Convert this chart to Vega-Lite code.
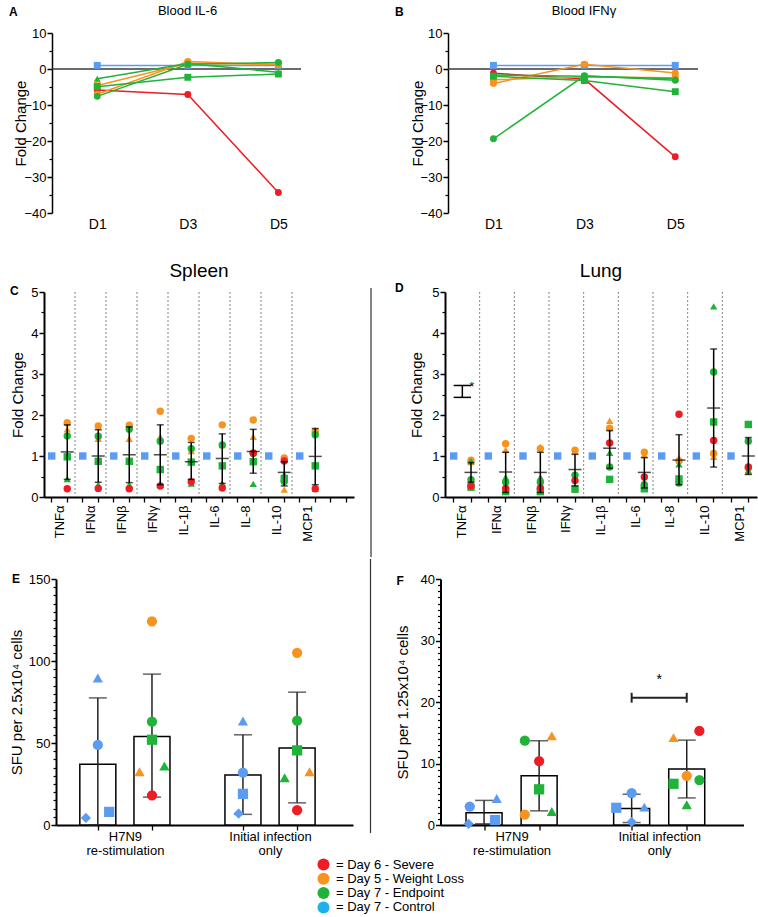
{
  "$schema": "https://vega.github.io/schema/vega-lite/v6.json",
  "padding": {"left": 6, "top": 4, "right": 0, "bottom": 0},
  "background": "white",
  "config": {
    "font": "Liberation Sans",
    "view": {"stroke": null},
    "axis": {"labelFont": "Liberation Sans", "titleFont": "Liberation Sans", "labelColor": "#000", "titleColor": "#000", "domainColor": "#000", "tickColor": "#000", "grid": false, "labelFontSize": 13, "titleFontSize": 15, "titleFontWeight": "normal", "domainWidth": 1.5, "tickWidth": 1.5, "labelOverlap": false},
    "title": {"font": "Liberation Sans", "fontWeight": "normal", "color": "#000"},
    "text": {"font": "Liberation Sans"},
    "legend": {"labelFont": "Liberation Sans"}
  },
  "datasets": {
    "il6": [
      {"id": "B1", "g": "Day 7 - Control", "s": "s", "d": 1, "v": 1.0}, {"id": "B1", "g": "Day 7 - Control", "s": "s", "d": 3, "v": 1.0}, {"id": "B1", "g": "Day 7 - Control", "s": "s", "d": 5, "v": 1.0},
      {"id": "R1", "g": "Day 6 - Severe", "s": "c", "d": 1, "v": -5.8}, {"id": "R1", "g": "Day 6 - Severe", "s": "c", "d": 3, "v": -7.1}, {"id": "R1", "g": "Day 6 - Severe", "s": "c", "d": 5, "v": -34.3},
      {"id": "O1", "g": "Day 5 - Weight Loss", "s": "c", "d": 1, "v": -7.0}, {"id": "O1", "g": "Day 5 - Weight Loss", "s": "c", "d": 3, "v": 2.1}, {"id": "O1", "g": "Day 5 - Weight Loss", "s": "c", "d": 5, "v": 1.2},
      {"id": "O2", "g": "Day 5 - Weight Loss", "s": "s", "d": 1, "v": -4.6}, {"id": "O2", "g": "Day 5 - Weight Loss", "s": "s", "d": 3, "v": 1.6}, {"id": "O2", "g": "Day 5 - Weight Loss", "s": "s", "d": 5, "v": 1.3},
      {"id": "G1", "g": "Day 7 - Endpoint", "s": "c", "d": 1, "v": -7.6}, {"id": "G1", "g": "Day 7 - Endpoint", "s": "c", "d": 3, "v": 1.3}, {"id": "G1", "g": "Day 7 - Endpoint", "s": "c", "d": 5, "v": 1.8},
      {"id": "G2", "g": "Day 7 - Endpoint", "s": "s", "d": 1, "v": -4.9}, {"id": "G2", "g": "Day 7 - Endpoint", "s": "s", "d": 3, "v": -2.3}, {"id": "G2", "g": "Day 7 - Endpoint", "s": "s", "d": 5, "v": -1.4},
      {"id": "G3", "g": "Day 7 - Endpoint", "s": "t", "d": 1, "v": -2.7}, {"id": "G3", "g": "Day 7 - Endpoint", "s": "t", "d": 3, "v": 1.5}, {"id": "G3", "g": "Day 7 - Endpoint", "s": "t", "d": 5, "v": -0.9}
    ],
    "ifng": [
      {"id": "B1", "g": "Day 7 - Control", "s": "s", "d": 1, "v": 1.0}, {"id": "B1", "g": "Day 7 - Control", "s": "s", "d": 3, "v": 1.0}, {"id": "B1", "g": "Day 7 - Control", "s": "s", "d": 5, "v": 1.0},
      {"id": "R1", "g": "Day 6 - Severe", "s": "c", "d": 1, "v": -1.2}, {"id": "R1", "g": "Day 6 - Severe", "s": "c", "d": 3, "v": -2.8}, {"id": "R1", "g": "Day 6 - Severe", "s": "c", "d": 5, "v": -24.4},
      {"id": "O1", "g": "Day 5 - Weight Loss", "s": "c", "d": 1, "v": -4.0}, {"id": "O1", "g": "Day 5 - Weight Loss", "s": "c", "d": 3, "v": 1.3}, {"id": "O1", "g": "Day 5 - Weight Loss", "s": "c", "d": 5, "v": -1.1},
      {"id": "O2", "g": "Day 5 - Weight Loss", "s": "s", "d": 1, "v": -3.0}, {"id": "O2", "g": "Day 5 - Weight Loss", "s": "s", "d": 3, "v": -2.2}, {"id": "O2", "g": "Day 5 - Weight Loss", "s": "s", "d": 5, "v": -2.4},
      {"id": "G1", "g": "Day 7 - Endpoint", "s": "c", "d": 1, "v": -19.4}, {"id": "G1", "g": "Day 7 - Endpoint", "s": "c", "d": 3, "v": -1.9}, {"id": "G1", "g": "Day 7 - Endpoint", "s": "c", "d": 5, "v": -3.1},
      {"id": "G2", "g": "Day 7 - Endpoint", "s": "s", "d": 1, "v": -2.0}, {"id": "G2", "g": "Day 7 - Endpoint", "s": "s", "d": 3, "v": -3.2}, {"id": "G2", "g": "Day 7 - Endpoint", "s": "s", "d": 5, "v": -6.3},
      {"id": "G3", "g": "Day 7 - Endpoint", "s": "t", "d": 1, "v": -1.7}, {"id": "G3", "g": "Day 7 - Endpoint", "s": "t", "d": 3, "v": -2.0}, {"id": "G3", "g": "Day 7 - Endpoint", "s": "t", "d": 5, "v": -2.7}
    ],
    "spleen": [
      {"k": "TNFα|ctl", "g": "Day 7 - Control", "s": "s", "v": 1},
      {"k": "TNFα|inf", "g": "Day 5 - Weight Loss", "s": "c", "v": 1.81}, {"k": "TNFα|inf", "g": "Day 5 - Weight Loss", "s": "t", "v": 1.65}, {"k": "TNFα|inf", "g": "Day 7 - Endpoint", "s": "c", "v": 1.49}, {"k": "TNFα|inf", "g": "Day 7 - Endpoint", "s": "s", "v": 0.98}, {"k": "TNFα|inf", "g": "Day 7 - Endpoint", "s": "t", "v": 0.44}, {"k": "TNFα|inf", "g": "Day 6 - Severe", "s": "c", "v": 0.20},
      {"k": "IFNα|ctl", "g": "Day 7 - Control", "s": "s", "v": 1},
      {"k": "IFNα|inf", "g": "Day 5 - Weight Loss", "s": "c", "v": 1.73}, {"k": "IFNα|inf", "g": "Day 5 - Weight Loss", "s": "t", "v": 1.42}, {"k": "IFNα|inf", "g": "Day 7 - Endpoint", "s": "c", "v": 1.48}, {"k": "IFNα|inf", "g": "Day 7 - Endpoint", "s": "s", "v": 0.87}, {"k": "IFNα|inf", "g": "Day 7 - Endpoint", "s": "t", "v": 0.30}, {"k": "IFNα|inf", "g": "Day 6 - Severe", "s": "c", "v": 0.21},
      {"k": "IFNβ|ctl", "g": "Day 7 - Control", "s": "s", "v": 1},
      {"k": "IFNβ|inf", "g": "Day 5 - Weight Loss", "s": "c", "v": 1.75}, {"k": "IFNβ|inf", "g": "Day 5 - Weight Loss", "s": "t", "v": 1.42}, {"k": "IFNβ|inf", "g": "Day 7 - Endpoint", "s": "c", "v": 1.65}, {"k": "IFNβ|inf", "g": "Day 7 - Endpoint", "s": "s", "v": 0.87}, {"k": "IFNβ|inf", "g": "Day 7 - Endpoint", "s": "t", "v": 0.30}, {"k": "IFNβ|inf", "g": "Day 6 - Severe", "s": "c", "v": 0.20},
      {"k": "IFNγ|ctl", "g": "Day 7 - Control", "s": "s", "v": 1},
      {"k": "IFNγ|inf", "g": "Day 5 - Weight Loss", "s": "c", "v": 2.09}, {"k": "IFNγ|inf", "g": "Day 5 - Weight Loss", "s": "t", "v": 1.47}, {"k": "IFNγ|inf", "g": "Day 7 - Endpoint", "s": "c", "v": 1.36}, {"k": "IFNγ|inf", "g": "Day 7 - Endpoint", "s": "s", "v": 0.67}, {"k": "IFNγ|inf", "g": "Day 7 - Endpoint", "s": "t", "v": 0.30}, {"k": "IFNγ|inf", "g": "Day 6 - Severe", "s": "c", "v": 0.27},
      {"k": "IL-1β|ctl", "g": "Day 7 - Control", "s": "s", "v": 1},
      {"k": "IL-1β|inf", "g": "Day 5 - Weight Loss", "s": "c", "v": 1.43}, {"k": "IL-1β|inf", "g": "Day 5 - Weight Loss", "s": "t", "v": 1.12}, {"k": "IL-1β|inf", "g": "Day 7 - Endpoint", "s": "c", "v": 1.18}, {"k": "IL-1β|inf", "g": "Day 7 - Endpoint", "s": "s", "v": 0.85}, {"k": "IL-1β|inf", "g": "Day 7 - Endpoint", "s": "t", "v": 0.33}, {"k": "IL-1β|inf", "g": "Day 6 - Severe", "s": "c", "v": 0.37},
      {"k": "IL-6|ctl", "g": "Day 7 - Control", "s": "s", "v": 1},
      {"k": "IL-6|inf", "g": "Day 5 - Weight Loss", "s": "c", "v": 1.76}, {"k": "IL-6|inf", "g": "Day 5 - Weight Loss", "s": "t", "v": 1.27}, {"k": "IL-6|inf", "g": "Day 7 - Endpoint", "s": "c", "v": 1.27}, {"k": "IL-6|inf", "g": "Day 7 - Endpoint", "s": "s", "v": 0.76}, {"k": "IL-6|inf", "g": "Day 7 - Endpoint", "s": "t", "v": 0.33}, {"k": "IL-6|inf", "g": "Day 6 - Severe", "s": "c", "v": 0.22},
      {"k": "IL-8|ctl", "g": "Day 7 - Control", "s": "s", "v": 1},
      {"k": "IL-8|inf", "g": "Day 5 - Weight Loss", "s": "c", "v": 1.88}, {"k": "IL-8|inf", "g": "Day 5 - Weight Loss", "s": "t", "v": 1.47}, {"k": "IL-8|inf", "g": "Day 7 - Endpoint", "s": "c", "v": 1.07}, {"k": "IL-8|inf", "g": "Day 7 - Endpoint", "s": "s", "v": 0.86}, {"k": "IL-8|inf", "g": "Day 7 - Endpoint", "s": "t", "v": 0.32}, {"k": "IL-8|inf", "g": "Day 6 - Severe", "s": "c", "v": 1.07},
      {"k": "IL-10|ctl", "g": "Day 7 - Control", "s": "s", "v": 1},
      {"k": "IL-10|inf", "g": "Day 5 - Weight Loss", "s": "c", "v": 0.95}, {"k": "IL-10|inf", "g": "Day 5 - Weight Loss", "s": "t", "v": 0.18}, {"k": "IL-10|inf", "g": "Day 7 - Endpoint", "s": "c", "v": 0.38}, {"k": "IL-10|inf", "g": "Day 7 - Endpoint", "s": "s", "v": 0.45}, {"k": "IL-10|inf", "g": "Day 7 - Endpoint", "s": "t", "v": 0.55}, {"k": "IL-10|inf", "g": "Day 6 - Severe", "s": "c", "v": 0.88},
      {"k": "MCP1|ctl", "g": "Day 7 - Control", "s": "s", "v": 1},
      {"k": "MCP1|inf", "g": "Day 5 - Weight Loss", "s": "c", "v": 1.60}, {"k": "MCP1|inf", "g": "Day 5 - Weight Loss", "s": "t", "v": 1.63}, {"k": "MCP1|inf", "g": "Day 7 - Endpoint", "s": "c", "v": 1.52}, {"k": "MCP1|inf", "g": "Day 7 - Endpoint", "s": "s", "v": 0.76}, {"k": "MCP1|inf", "g": "Day 7 - Endpoint", "s": "t", "v": 0.20}, {"k": "MCP1|inf", "g": "Day 6 - Severe", "s": "c", "v": 0.20}
    ],
    "spleenStats": [
      {"k": "TNFα|inf", "m": 1.10, "lo": 0.43, "hi": 1.76},
      {"k": "IFNα|inf", "m": 1.00, "lo": 0.36, "hi": 1.64},
      {"k": "IFNβ|inf", "m": 1.03, "lo": 0.35, "hi": 1.71},
      {"k": "IFNγ|inf", "m": 1.03, "lo": 0.30, "hi": 1.76},
      {"k": "IL-1β|inf", "m": 0.86, "lo": 0.43, "hi": 1.33},
      {"k": "IL-6|inf", "m": 0.94, "lo": 0.33, "hi": 1.54},
      {"k": "IL-8|inf", "m": 1.11, "lo": 0.58, "hi": 1.65},
      {"k": "IL-10|inf", "m": 0.60, "lo": 0.27, "hi": 0.86},
      {"k": "MCP1|inf", "m": 0.99, "lo": 0.30, "hi": 1.67}
    ],
    "lung": [
      {"k": "TNFα|ctl", "g": "Day 7 - Control", "s": "s", "v": 1},
      {"k": "TNFα|inf", "g": "Day 5 - Weight Loss", "s": "c", "v": 0.90}, {"k": "TNFα|inf", "g": "Day 5 - Weight Loss", "s": "t", "v": 0.85}, {"k": "TNFα|inf", "g": "Day 7 - Endpoint", "s": "c", "v": 0.42}, {"k": "TNFα|inf", "g": "Day 7 - Endpoint", "s": "s", "v": 0.24}, {"k": "TNFα|inf", "g": "Day 7 - Endpoint", "s": "t", "v": 0.88}, {"k": "TNFα|inf", "g": "Day 6 - Severe", "s": "c", "v": 0.27},
      {"k": "IFNα|ctl", "g": "Day 7 - Control", "s": "s", "v": 1},
      {"k": "IFNα|inf", "g": "Day 5 - Weight Loss", "s": "c", "v": 1.30}, {"k": "IFNα|inf", "g": "Day 5 - Weight Loss", "s": "t", "v": 1.15}, {"k": "IFNα|inf", "g": "Day 7 - Endpoint", "s": "c", "v": 0.36}, {"k": "IFNα|inf", "g": "Day 7 - Endpoint", "s": "s", "v": 0.13}, {"k": "IFNα|inf", "g": "Day 7 - Endpoint", "s": "t", "v": 0.48}, {"k": "IFNα|inf", "g": "Day 6 - Severe", "s": "c", "v": 0.21},
      {"k": "IFNβ|ctl", "g": "Day 7 - Control", "s": "s", "v": 1},
      {"k": "IFNβ|inf", "g": "Day 5 - Weight Loss", "s": "c", "v": 1.18}, {"k": "IFNβ|inf", "g": "Day 5 - Weight Loss", "s": "t", "v": 1.22}, {"k": "IFNβ|inf", "g": "Day 7 - Endpoint", "s": "c", "v": 0.36}, {"k": "IFNβ|inf", "g": "Day 7 - Endpoint", "s": "s", "v": 0.13}, {"k": "IFNβ|inf", "g": "Day 7 - Endpoint", "s": "t", "v": 0.48}, {"k": "IFNβ|inf", "g": "Day 6 - Severe", "s": "c", "v": 0.22},
      {"k": "IFNγ|ctl", "g": "Day 7 - Control", "s": "s", "v": 1},
      {"k": "IFNγ|inf", "g": "Day 5 - Weight Loss", "s": "c", "v": 1.14}, {"k": "IFNγ|inf", "g": "Day 5 - Weight Loss", "s": "t", "v": 1.12}, {"k": "IFNγ|inf", "g": "Day 7 - Endpoint", "s": "c", "v": 0.53}, {"k": "IFNγ|inf", "g": "Day 7 - Endpoint", "s": "s", "v": 0.19}, {"k": "IFNγ|inf", "g": "Day 7 - Endpoint", "s": "t", "v": 0.45}, {"k": "IFNγ|inf", "g": "Day 6 - Severe", "s": "c", "v": 0.40},
      {"k": "IL-1β|ctl", "g": "Day 7 - Control", "s": "s", "v": 1},
      {"k": "IL-1β|inf", "g": "Day 5 - Weight Loss", "s": "c", "v": 1.68}, {"k": "IL-1β|inf", "g": "Day 5 - Weight Loss", "s": "t", "v": 1.86}, {"k": "IL-1β|inf", "g": "Day 7 - Endpoint", "s": "c", "v": 0.73}, {"k": "IL-1β|inf", "g": "Day 7 - Endpoint", "s": "s", "v": 0.43}, {"k": "IL-1β|inf", "g": "Day 7 - Endpoint", "s": "t", "v": 1.08}, {"k": "IL-1β|inf", "g": "Day 6 - Severe", "s": "c", "v": 1.32},
      {"k": "IL-6|ctl", "g": "Day 7 - Control", "s": "s", "v": 1},
      {"k": "IL-6|inf", "g": "Day 5 - Weight Loss", "s": "c", "v": 1.09}, {"k": "IL-6|inf", "g": "Day 5 - Weight Loss", "s": "t", "v": 1.03}, {"k": "IL-6|inf", "g": "Day 7 - Endpoint", "s": "c", "v": 0.30}, {"k": "IL-6|inf", "g": "Day 7 - Endpoint", "s": "s", "v": 0.20}, {"k": "IL-6|inf", "g": "Day 7 - Endpoint", "s": "t", "v": 0.37}, {"k": "IL-6|inf", "g": "Day 6 - Severe", "s": "c", "v": 0.49},
      {"k": "IL-8|ctl", "g": "Day 7 - Control", "s": "s", "v": 1},
      {"k": "IL-8|inf", "g": "Day 5 - Weight Loss", "s": "c", "v": 0.88}, {"k": "IL-8|inf", "g": "Day 5 - Weight Loss", "s": "t", "v": 0.95}, {"k": "IL-8|inf", "g": "Day 7 - Endpoint", "s": "c", "v": 0.34}, {"k": "IL-8|inf", "g": "Day 7 - Endpoint", "s": "s", "v": 0.44}, {"k": "IL-8|inf", "g": "Day 7 - Endpoint", "s": "t", "v": 0.80}, {"k": "IL-8|inf", "g": "Day 6 - Severe", "s": "c", "v": 2.02},
      {"k": "IL-10|ctl", "g": "Day 7 - Control", "s": "s", "v": 1},
      {"k": "IL-10|inf", "g": "Day 5 - Weight Loss", "s": "c", "v": 1.06}, {"k": "IL-10|inf", "g": "Day 5 - Weight Loss", "s": "t", "v": 0.98}, {"k": "IL-10|inf", "g": "Day 7 - Endpoint", "s": "c", "v": 3.05}, {"k": "IL-10|inf", "g": "Day 7 - Endpoint", "s": "s", "v": 1.83}, {"k": "IL-10|inf", "g": "Day 7 - Endpoint", "s": "t", "v": 4.65}, {"k": "IL-10|inf", "g": "Day 6 - Severe", "s": "c", "v": 1.38},
      {"k": "MCP1|ctl", "g": "Day 7 - Control", "s": "s", "v": 1},
      {"k": "MCP1|inf", "g": "Day 5 - Weight Loss", "s": "c", "v": 0.70}, {"k": "MCP1|inf", "g": "Day 5 - Weight Loss", "s": "t", "v": 0.62}, {"k": "MCP1|inf", "g": "Day 7 - Endpoint", "s": "c", "v": 1.36}, {"k": "MCP1|inf", "g": "Day 7 - Endpoint", "s": "s", "v": 1.77}, {"k": "MCP1|inf", "g": "Day 7 - Endpoint", "s": "t", "v": 0.65}, {"k": "MCP1|inf", "g": "Day 6 - Severe", "s": "c", "v": 0.73}
    ],
    "lungStats": [
      {"k": "TNFα|inf", "m": 0.60, "lo": 0.36, "hi": 0.84},
      {"k": "IFNα|inf", "m": 0.61, "lo": 0.11, "hi": 1.09},
      {"k": "IFNβ|inf", "m": 0.60, "lo": 0.11, "hi": 1.09},
      {"k": "IFNγ|inf", "m": 0.67, "lo": 0.27, "hi": 1.04},
      {"k": "IL-1β|inf", "m": 1.19, "lo": 0.70, "hi": 1.62},
      {"k": "IL-6|inf", "m": 0.60, "lo": 0.22, "hi": 0.96},
      {"k": "IL-8|inf", "m": 0.90, "lo": 0.30, "hi": 1.52},
      {"k": "IL-10|inf", "m": 2.17, "lo": 0.73, "hi": 3.61},
      {"k": "MCP1|inf", "m": 1.00, "lo": 0.55, "hi": 1.45}
    ],
    "dividers": [
      {"k": "TNFα|inf"}, {"k": "IFNα|inf"}, {"k": "IFNβ|inf"}, {"k": "IFNγ|inf"}, {"k": "IL-1β|inf"}, {"k": "IL-6|inf"}, {"k": "IL-8|inf"}, {"k": "IL-10|inf"}
    ],
    "eBars": [
      {"x": 1, "m": 37, "lo": 0, "hi": 77.5},
      {"x": 2, "m": 54, "lo": 17, "hi": 92},
      {"x": 3.68, "m": 30.5, "lo": 6.5, "hi": 55},
      {"x": 4.68, "m": 47, "lo": 13.5, "hi": 81}
    ],
    "ePts": [
      {"x": 1.0, "v": 89.6, "g": "Day 7 - Control", "s": "t"}, {"x": 1.0, "v": 48.8, "g": "Day 7 - Control", "s": "c"}, {"x": 1.21, "v": 8, "g": "Day 7 - Control", "s": "s"}, {"x": 0.78, "v": 4.3, "g": "Day 7 - Control", "s": "d"},
      {"x": 2.0, "v": 124.2, "g": "Day 5 - Weight Loss", "s": "c"}, {"x": 2.0, "v": 63, "g": "Day 7 - Endpoint", "s": "c"}, {"x": 2.0, "v": 52, "g": "Day 7 - Endpoint", "s": "s"}, {"x": 1.77, "v": 32.5, "g": "Day 5 - Weight Loss", "s": "t"}, {"x": 2.23, "v": 36, "g": "Day 7 - Endpoint", "s": "t"}, {"x": 2.0, "v": 18, "g": "Day 6 - Severe", "s": "c"},
      {"x": 3.68, "v": 63.4, "g": "Day 7 - Control", "s": "t"}, {"x": 3.68, "v": 32, "g": "Day 7 - Control", "s": "c"}, {"x": 3.68, "v": 19, "g": "Day 7 - Control", "s": "s"}, {"x": 3.6, "v": 7, "g": "Day 7 - Control", "s": "d"},
      {"x": 4.68, "v": 105, "g": "Day 5 - Weight Loss", "s": "c"}, {"x": 4.68, "v": 63.6, "g": "Day 7 - Endpoint", "s": "c"}, {"x": 4.68, "v": 45.5, "g": "Day 7 - Endpoint", "s": "s"}, {"x": 4.45, "v": 28.8, "g": "Day 7 - Endpoint", "s": "t"}, {"x": 4.91, "v": 32.5, "g": "Day 5 - Weight Loss", "s": "t"}, {"x": 4.68, "v": 9, "g": "Day 6 - Severe", "s": "c"}
    ],
    "fBars": [
      {"x": 1, "m": 2.0, "lo": 0.2, "hi": 4.0},
      {"x": 2, "m": 8.0, "lo": 2.3, "hi": 13.7},
      {"x": 3.68, "m": 2.7, "lo": 0.4, "hi": 5.0},
      {"x": 4.68, "m": 9.1, "lo": 4.4, "hi": 13.8}
    ],
    "fPts": [
      {"x": 0.74, "v": 3.0, "g": "Day 7 - Control", "s": "c"}, {"x": 1.23, "v": 4.3, "g": "Day 7 - Control", "s": "t"}, {"x": 0.72, "v": 0.2, "g": "Day 7 - Control", "s": "d"}, {"x": 1.2, "v": 0.8, "g": "Day 7 - Control", "s": "s"},
      {"x": 1.74, "v": 13.7, "g": "Day 7 - Endpoint", "s": "c"}, {"x": 2.23, "v": 14.5, "g": "Day 5 - Weight Loss", "s": "t"}, {"x": 2.0, "v": 10.4, "g": "Day 6 - Severe", "s": "c"}, {"x": 2.0, "v": 5.8, "g": "Day 7 - Endpoint", "s": "s"}, {"x": 1.74, "v": 1.7, "g": "Day 5 - Weight Loss", "s": "c"}, {"x": 2.23, "v": 2.2, "g": "Day 7 - Endpoint", "s": "t"},
      {"x": 3.68, "v": 5.2, "g": "Day 7 - Control", "s": "c"}, {"x": 3.4, "v": 2.8, "g": "Day 7 - Control", "s": "s"}, {"x": 3.91, "v": 2.9, "g": "Day 7 - Control", "s": "t"}, {"x": 3.68, "v": 0.5, "g": "Day 7 - Control", "s": "d"},
      {"x": 4.91, "v": 15.3, "g": "Day 6 - Severe", "s": "c"}, {"x": 4.44, "v": 14.2, "g": "Day 5 - Weight Loss", "s": "t"}, {"x": 4.68, "v": 8.0, "g": "Day 5 - Weight Loss", "s": "c"}, {"x": 4.91, "v": 7.3, "g": "Day 7 - Endpoint", "s": "c"}, {"x": 4.44, "v": 6.7, "g": "Day 7 - Endpoint", "s": "s"}, {"x": 4.68, "v": 3.3, "g": "Day 7 - Endpoint", "s": "t"}
    ],
    "legendRows": [
      {"g": "Day 6 - Severe"}, {"g": "Day 5 - Weight Loss"}, {"g": "Day 7 - Endpoint"}, {"g": "Day 7 - Control"}
    ]
  },
  "resolve": {"scale": {"color": "independent"}},
  "columns": 1,
  "spacing": 30,
  "concat": [
    {
      "spacing": 0,
      "hconcat": [
        {"width": 3, "height": 1, "data": {"values": [{}]}, "mark": {"type": "point", "opacity": 0, "size": 0}},
        {
          "spacing": 93,
          "hconcat": [
            {
              "width": 249, "height": 180,
              "title": {"text": "Blood IL-6", "fontSize": 13, "offset": -11.5, "dx": 11},
              "data": {"name": "il6"},
              "resolve": {"axis": {"y": "independent"}},
              "layer": [
                {"data": {"values": [{"v": 0}]}, "mark": {"type": "rule", "color": "#3a3a3a", "strokeWidth": 1.3}, "encoding": {"y": {"field": "v", "type": "quantitative", "axis": null}}},
                {"mark": {"type": "line", "strokeWidth": 1.5}, "encoding": {
                  "x": {"field": "d", "type": "quantitative", "scale": {"domain": [0, 5.5], "nice": false}, "axis": {"values": [1, 3, 5], "labelExpr": "'D' + datum.value", "domain": false, "ticks": false, "labelPadding": 4, "labelFontSize": 14, "title": null}},
                  "y": {"field": "v", "type": "quantitative", "scale": {"domain": [-40, 10], "nice": false}, "axis": {"title": "Fold Change", "values": [-40, -30, -20, -10, 0, 10], "tickSize": 5, "labelPadding": 1, "labelOverlap": false, "minExtent": 26, "maxExtent": 26, "titlePadding": -2}},
                  "color": {"field": "g", "type": "nominal", "scale": {"domain": ["Day 6 - Severe", "Day 5 - Weight Loss", "Day 7 - Endpoint", "Day 7 - Control"], "range": ["#ee1c25", "#f7931e", "#1fb33a", "#5b9cf2"]}, "legend": null},
                  "detail": {"field": "id"}}},
                {"mark": {"type": "point", "opacity": 0}, "encoding": {
                  "x": {"field": "d", "type": "quantitative"},
                  "y": {"field": "v", "type": "quantitative", "axis": {"orient": "left", "title": null, "values": [-35, -25, -15, -5, 5], "labels": false, "domain": false, "tickSize": 3, "tickWidth": 1.2, "minExtent": 0, "maxExtent": 0}}}},
                {"mark": {"type": "point", "filled": true, "size": 48, "opacity": 1}, "encoding": {
                  "x": {"field": "d", "type": "quantitative"},
                  "y": {"field": "v", "type": "quantitative", "axis": null},
                  "color": {"field": "g", "type": "nominal", "scale": {"domain": ["Day 6 - Severe", "Day 5 - Weight Loss", "Day 7 - Endpoint", "Day 7 - Control"], "range": ["#ee1c25", "#f7931e", "#1fb33a", "#5b9cf2"]}, "legend": null},
                  "shape": {"field": "s", "type": "nominal", "scale": {"domain": ["c", "s", "t", "d"], "range": ["circle", "square", "triangle-up", "diamond"]}, "legend": null}}},
                {"data": {"values": [{"d": 0, "v": 10, "t": "A"}]}, "mark": {"type": "text", "fontSize": 12, "fontWeight": "bold", "align": "left", "baseline": "middle", "dx": -43, "dy": -21}, "encoding": {"x": {"field": "d", "type": "quantitative"}, "y": {"field": "v", "type": "quantitative", "axis": null}, "text": {"field": "t"}}}
              ]
            },
            {
              "width": 250, "height": 180,
              "title": {"text": "Blood IFNγ", "fontSize": 13, "offset": -11.5, "dx": 11},
              "data": {"name": "ifng"},
              "resolve": {"axis": {"y": "independent"}},
              "layer": [
                {"data": {"values": [{"v": 0}]}, "mark": {"type": "rule", "color": "#3a3a3a", "strokeWidth": 1.3}, "encoding": {"y": {"field": "v", "type": "quantitative", "axis": null}}},
                {"mark": {"type": "line", "strokeWidth": 1.5}, "encoding": {
                  "x": {"field": "d", "type": "quantitative", "scale": {"domain": [0, 5.5], "nice": false}, "axis": {"values": [1, 3, 5], "labelExpr": "'D' + datum.value", "domain": false, "ticks": false, "labelPadding": 4, "labelFontSize": 14, "title": null}},
                  "y": {"field": "v", "type": "quantitative", "scale": {"domain": [-40, 10], "nice": false}, "axis": {"title": "Fold Change", "values": [-40, -30, -20, -10, 0, 10], "tickSize": 5, "labelPadding": 1, "labelOverlap": false, "minExtent": 26, "maxExtent": 26, "titlePadding": -3}},
                  "color": {"field": "g", "type": "nominal", "scale": {"domain": ["Day 6 - Severe", "Day 5 - Weight Loss", "Day 7 - Endpoint", "Day 7 - Control"], "range": ["#ee1c25", "#f7931e", "#1fb33a", "#5b9cf2"]}, "legend": null},
                  "detail": {"field": "id"}}},
                {"mark": {"type": "point", "opacity": 0}, "encoding": {
                  "x": {"field": "d", "type": "quantitative"},
                  "y": {"field": "v", "type": "quantitative", "axis": {"orient": "left", "title": null, "values": [-35, -25, -15, -5, 5], "labels": false, "domain": false, "tickSize": 3, "tickWidth": 1.2, "minExtent": 0, "maxExtent": 0}}}},
                {"mark": {"type": "point", "filled": true, "size": 48, "opacity": 1}, "encoding": {
                  "x": {"field": "d", "type": "quantitative"},
                  "y": {"field": "v", "type": "quantitative", "axis": null},
                  "color": {"field": "g", "type": "nominal", "scale": {"domain": ["Day 6 - Severe", "Day 5 - Weight Loss", "Day 7 - Endpoint", "Day 7 - Control"], "range": ["#ee1c25", "#f7931e", "#1fb33a", "#5b9cf2"]}, "legend": null},
                  "shape": {"field": "s", "type": "nominal", "scale": {"domain": ["c", "s", "t", "d"], "range": ["circle", "square", "triangle-up", "diamond"]}, "legend": null}}},
                {"data": {"values": [{"d": 0, "v": 10, "t": "B"}]}, "mark": {"type": "text", "fontSize": 12, "fontWeight": "bold", "align": "left", "baseline": "middle", "dx": -53, "dy": -21}, "encoding": {"x": {"field": "d", "type": "quantitative"}, "y": {"field": "v", "type": "quantitative", "axis": null}, "text": {"field": "t"}}}
              ]
            }
          ]
        }
      ]
    },
    {
      "columns": 1,
      "spacing": 0,
      "resolve": {"scale": {"color": "independent"}},
      "concat": [
        {
          "spacing": 0,
          "hconcat": [
            {"width": 4, "height": 1, "data": {"values": [{}]}, "mark": {"type": "point", "opacity": 0, "size": 0}},
            {
              "spacing": 9,
              "hconcat": [
                {
                  "width": 310, "height": 205,
                  "title": {"text": "Spleen", "fontSize": 19, "offset": 4.5},
                  "data": {"name": "spleen"},
                  "resolve": {"axis": {"y": "independent"}},
                  "layer": [
                    {"data": {"name": "dividers"},
                     "mark": {"type": "rule", "strokeDash": [2, 2], "color": "#666", "strokeWidth": 0.8},
                     "encoding": {"x": {"field": "k", "type": "nominal", "bandPosition": 1,
                       "scale": {"type": "band", "domain": ["TNFα|ctl", "TNFα|inf", "IFNα|ctl", "IFNα|inf", "IFNβ|ctl", "IFNβ|inf", "IFNγ|ctl", "IFNγ|inf", "IL-1β|ctl", "IL-1β|inf", "IL-6|ctl", "IL-6|inf", "IL-8|ctl", "IL-8|inf", "IL-10|ctl", "IL-10|inf", "MCP1|ctl", "MCP1|inf", "_1", "_2"], "paddingInner": 0, "paddingOuter": 0},
                       "axis": {"title": null, "labelExpr": "indexof(datum.value, '|ctl') > 0 ? replace(datum.value, '|ctl', '') : ''", "labelAngle": -90, "labelOffset": 7.75, "labelFontSize": 13, "labelPadding": 3, "tickSize": 5, "tickWidth": 1.3, "domainWidth": 2, "labelOverlap": false}}}},
                    {"mark": {"type": "point", "filled": true, "size": 55, "opacity": 1}, "encoding": {
                      "x": {"field": "k", "type": "nominal"},
                      "y": {"field": "v", "type": "quantitative", "scale": {"domain": [0, 5], "nice": false}, "axis": {"title": "Fold Change", "values": [0, 1, 2, 3, 4, 5], "tickSize": 5, "labelPadding": 1, "labelOverlap": false, "minExtent": 14, "maxExtent": 14, "titlePadding": 4.5, "domainWidth": 2}},
                      "color": {"field": "g", "type": "nominal", "scale": {"domain": ["Day 6 - Severe", "Day 5 - Weight Loss", "Day 7 - Endpoint", "Day 7 - Control"], "range": ["#ee1c25", "#f7931e", "#1fb33a", "#5b9cf2"]}, "legend": null},
                      "shape": {"field": "s", "type": "nominal", "scale": {"domain": ["c", "s", "t", "d"], "range": ["circle", "square", "triangle-up", "diamond"]}, "legend": null}}},
                    {"mark": {"type": "point", "opacity": 0}, "encoding": {
                      "x": {"field": "k", "type": "nominal"},
                      "y": {"field": "v", "type": "quantitative", "axis": {"orient": "left", "title": null, "values": [0.5, 1.5, 2.5, 3.5, 4.5], "labels": false, "domain": false, "tickSize": 3, "tickWidth": 1.2, "minExtent": 0, "maxExtent": 0}}}},
                    {"data": {"name": "spleenStats"}, "mark": {"type": "rule", "color": "#000", "strokeWidth": 1.5}, "encoding": {"x": {"field": "k", "type": "nominal"}, "y": {"field": "lo", "type": "quantitative", "axis": null}, "y2": {"field": "hi"}}},
                    {"data": {"name": "spleenStats"}, "mark": {"type": "tick", "orient": "horizontal", "color": "#000", "size": 7, "thickness": 1.5}, "encoding": {"x": {"field": "k", "type": "nominal"}, "y": {"field": "lo", "type": "quantitative", "axis": null}}},
                    {"data": {"name": "spleenStats"}, "mark": {"type": "tick", "orient": "horizontal", "color": "#000", "size": 7, "thickness": 1.5}, "encoding": {"x": {"field": "k", "type": "nominal"}, "y": {"field": "hi", "type": "quantitative", "axis": null}}},
                    {"data": {"name": "spleenStats"}, "mark": {"type": "tick", "orient": "horizontal", "color": "#000", "size": 13, "thickness": 1.5}, "encoding": {"x": {"field": "k", "type": "nominal"}, "y": {"field": "m", "type": "quantitative", "axis": null}}},
                    {"data": {"values": [{"k": "TNFα|ctl", "v": 5, "t": "C"}]}, "mark": {"type": "text", "fontSize": 12, "fontWeight": "bold", "align": "left", "baseline": "middle", "dx": -34, "dy": -1}, "encoding": {"x": {"field": "k", "type": "nominal", "bandPosition": 0}, "y": {"field": "v", "type": "quantitative", "axis": null}, "text": {"field": "t"}}}
                  ]
                },
                {
                  "width": 312, "height": 205,
                  "title": {"text": "Lung", "fontSize": 19, "offset": 1.5},
                  "data": {"name": "lung"},
                  "resolve": {"axis": {"y": "independent"}},
                  "layer": [
                    {"data": {"name": "dividers"},
                     "mark": {"type": "rule", "strokeDash": [2, 2], "color": "#666", "strokeWidth": 0.8},
                     "encoding": {"x": {"field": "k", "type": "nominal", "bandPosition": 1,
                       "scale": {"type": "band", "domain": ["TNFα|ctl", "TNFα|inf", "IFNα|ctl", "IFNα|inf", "IFNβ|ctl", "IFNβ|inf", "IFNγ|ctl", "IFNγ|inf", "IL-1β|ctl", "IL-1β|inf", "IL-6|ctl", "IL-6|inf", "IL-8|ctl", "IL-8|inf", "IL-10|ctl", "IL-10|inf", "MCP1|ctl", "MCP1|inf"], "paddingInner": 0, "paddingOuter": 0},
                       "axis": {"title": null, "labelExpr": "indexof(datum.value, '|ctl') > 0 ? replace(datum.value, '|ctl', '') : ''", "labelAngle": -90, "labelOffset": 8.67, "labelFontSize": 13, "labelPadding": 3, "tickSize": 5, "tickWidth": 1.3, "domainWidth": 2, "labelOverlap": false}}}},
                    {"data": {"values": [{"k": "TNFα|ctl", "top": 5.1, "bot": -1.463}]}, "mark": {"type": "rule", "color": "#333", "strokeWidth": 1.2, "xOffset": -74}, "encoding": {"x": {"field": "k", "type": "nominal", "bandPosition": 0}, "y": {"field": "top", "type": "quantitative", "axis": null}, "y2": {"field": "bot"}}},
                    {"mark": {"type": "point", "filled": true, "size": 55, "opacity": 1}, "encoding": {
                      "x": {"field": "k", "type": "nominal"},
                      "y": {"field": "v", "type": "quantitative", "scale": {"domain": [0, 5], "nice": false}, "axis": {"title": "Fold Change", "values": [0, 1, 2, 3, 4, 5], "tickSize": 5, "labelPadding": 1, "labelOverlap": false, "minExtent": 14, "maxExtent": 14, "titlePadding": 6.25, "domainWidth": 2}},
                      "color": {"field": "g", "type": "nominal", "scale": {"domain": ["Day 6 - Severe", "Day 5 - Weight Loss", "Day 7 - Endpoint", "Day 7 - Control"], "range": ["#ee1c25", "#f7931e", "#1fb33a", "#5b9cf2"]}, "legend": null},
                      "shape": {"field": "s", "type": "nominal", "scale": {"domain": ["c", "s", "t", "d"], "range": ["circle", "square", "triangle-up", "diamond"]}, "legend": null}}},
                    {"mark": {"type": "point", "opacity": 0}, "encoding": {
                      "x": {"field": "k", "type": "nominal"},
                      "y": {"field": "v", "type": "quantitative", "axis": {"orient": "left", "title": null, "values": [0.5, 1.5, 2.5, 3.5, 4.5], "labels": false, "domain": false, "tickSize": 3, "tickWidth": 1.2, "minExtent": 0, "maxExtent": 0}}}},
                    {"data": {"name": "lungStats"}, "mark": {"type": "rule", "color": "#000", "strokeWidth": 1.5}, "encoding": {"x": {"field": "k", "type": "nominal"}, "y": {"field": "lo", "type": "quantitative", "axis": null}, "y2": {"field": "hi"}}},
                    {"data": {"name": "lungStats"}, "mark": {"type": "tick", "orient": "horizontal", "color": "#000", "size": 7, "thickness": 1.5}, "encoding": {"x": {"field": "k", "type": "nominal"}, "y": {"field": "lo", "type": "quantitative", "axis": null}}},
                    {"data": {"name": "lungStats"}, "mark": {"type": "tick", "orient": "horizontal", "color": "#000", "size": 7, "thickness": 1.5}, "encoding": {"x": {"field": "k", "type": "nominal"}, "y": {"field": "hi", "type": "quantitative", "axis": null}}},
                    {"data": {"name": "lungStats"}, "mark": {"type": "tick", "orient": "horizontal", "color": "#000", "size": 13, "thickness": 1.5}, "encoding": {"x": {"field": "k", "type": "nominal"}, "y": {"field": "m", "type": "quantitative", "axis": null}}},
                    {"data": {"values": [{"k": "TNFα|ctl", "lo": 2.43, "hi": 2.72}]}, "mark": {"type": "rule", "color": "#000", "strokeWidth": 1.5}, "encoding": {"x": {"field": "k", "type": "nominal", "bandPosition": 1}, "y": {"field": "lo", "type": "quantitative", "axis": null}, "y2": {"field": "hi"}}},
                    {"data": {"values": [{"k": "TNFα|ctl", "k2": "TNFα|inf", "v": 2.43}, {"k": "TNFα|ctl", "k2": "TNFα|inf", "v": 2.72}]}, "mark": {"type": "rule", "color": "#000", "strokeWidth": 1.5}, "encoding": {"x": {"field": "k", "type": "nominal"}, "x2": {"field": "k2"}, "y": {"field": "v", "type": "quantitative", "axis": null}}},
                    {"data": {"values": [{"k": "TNFα|ctl", "hi": 2.72, "t": "*"}]}, "mark": {"type": "text", "fontSize": 13, "align": "left", "baseline": "middle", "dx": 7, "dy": 2}, "encoding": {"x": {"field": "k", "type": "nominal", "bandPosition": 1}, "y": {"field": "hi", "type": "quantitative", "axis": null}, "text": {"field": "t"}}},
                    {"data": {"values": [{"k": "TNFα|ctl", "v": 5, "t": "D"}]}, "mark": {"type": "text", "fontSize": 12, "fontWeight": "bold", "align": "left", "baseline": "middle", "dx": -50, "dy": -4}, "encoding": {"x": {"field": "k", "type": "nominal", "bandPosition": 0}, "y": {"field": "v", "type": "quantitative", "axis": null}, "text": {"field": "t"}}}
                  ]
                }
              ]
            }
          ]
        },
        {
          "spacing": 0,
          "hconcat": [
            {"width": 3, "height": 1, "data": {"values": [{}]}, "mark": {"type": "point", "opacity": 0, "size": 0}},
            {
              "spacing": 16.5,
              "hconcat": [
                {
                  "width": 297, "height": 246,
                  "resolve": {"axis": {"x": "independent", "y": "independent"}},
                  "layer": [
                    {"data": {"name": "eBars"}, "mark": {"type": "bar", "width": 36, "fill": "white", "stroke": "#000", "strokeWidth": 1.5}, "encoding": {
                      "x": {"field": "x", "type": "quantitative", "scale": {"domain": [0.32, 5.62], "nice": false, "zero": false}, "axis": {"values": [1.5, 4.18], "labelExpr": "datum.value < 3 ? ['H7N9', 're-stimulation'] : ['Initial infection', 'only']", "ticks": false, "labelPadding": 5, "labelLineHeight": 14.5, "labelFontSize": 13, "title": null, "domainWidth": 2, "labelOverlap": false}},
                      "y": {"field": "m", "type": "quantitative", "scale": {"domain": [0, 150], "nice": false}, "axis": {"title": "SFU per 2.5x10⁴ cells", "values": [0, 50, 100, 150], "tickSize": 5, "labelPadding": 1, "labelOverlap": false, "minExtent": 29, "maxExtent": 29, "titlePadding": 2.5, "domainWidth": 2}}}},
                    {"data": {"name": "eBars"}, "mark": {"type": "tick", "opacity": 0}, "encoding": {
                      "x": {"field": "x", "type": "quantitative", "axis": {"orient": "bottom", "title": null, "values": [1, 2, 3.68, 4.68], "labels": false, "domain": false, "tickSize": 5, "tickWidth": 1.3}},
                      "y": {"field": "m", "type": "quantitative", "axis": {"orient": "left", "title": null, "values": [5, 10, 15, 20, 25, 30, 35, 40, 45, 55, 60, 65, 70, 75, 80, 85, 90, 95, 105, 110, 115, 120, 125, 130, 135, 140, 145], "labels": false, "domain": false, "tickSize": 3, "tickWidth": 1.2, "minExtent": 0, "maxExtent": 0}}}},
                    {"data": {"name": "eBars"}, "mark": {"type": "rule", "color": "#222", "strokeWidth": 1.5}, "encoding": {"x": {"field": "x", "type": "quantitative", "axis": null}, "y": {"field": "lo", "type": "quantitative", "axis": null}, "y2": {"field": "hi"}}},
                    {"data": {"name": "eBars"}, "mark": {"type": "tick", "orient": "horizontal", "color": "#222", "size": 18, "thickness": 1.5}, "encoding": {"x": {"field": "x", "type": "quantitative", "axis": null}, "y": {"field": "hi", "type": "quantitative", "axis": null}}},
                    {"data": {"name": "eBars"}, "mark": {"type": "tick", "orient": "horizontal", "color": "#222", "size": 18, "thickness": 1.5}, "encoding": {"x": {"field": "x", "type": "quantitative", "axis": null}, "y": {"field": "lo", "type": "quantitative", "axis": null}}},
                    {"data": {"name": "ePts"}, "mark": {"type": "point", "filled": true, "size": 105, "opacity": 1}, "encoding": {
                      "x": {"field": "x", "type": "quantitative", "axis": null},
                      "y": {"field": "v", "type": "quantitative", "axis": null},
                      "color": {"field": "g", "type": "nominal", "scale": {"domain": ["Day 6 - Severe", "Day 5 - Weight Loss", "Day 7 - Endpoint", "Day 7 - Control"], "range": ["#ee1c25", "#f7931e", "#1fb33a", "#5b9cf2"]}, "legend": null},
                      "shape": {"field": "s", "type": "nominal", "scale": {"domain": ["c", "s", "t", "d"], "range": ["circle", "square", "triangle-up", "diamond"]}, "legend": null}}},
                    {"data": {"values": [{"x": 0.32, "v": 150, "t": "E"}]}, "mark": {"type": "text", "fontSize": 12, "fontWeight": "bold", "align": "left", "baseline": "middle", "dx": -49, "dy": 0}, "encoding": {"x": {"field": "x", "type": "quantitative", "axis": null}, "y": {"field": "v", "type": "quantitative", "axis": null}, "text": {"field": "t"}}}
                  ]
                },
                {
                  "width": 303, "height": 246,
                  "resolve": {"axis": {"x": "independent", "y": "independent"}},
                  "layer": [
                    {"data": {"name": "fBars"}, "mark": {"type": "bar", "width": 36, "fill": "white", "stroke": "#000", "strokeWidth": 1.5}, "encoding": {
                      "x": {"field": "x", "type": "quantitative", "scale": {"domain": [0.3, 5.62], "nice": false, "zero": false}, "axis": {"values": [1.5, 4.18], "labelExpr": "datum.value < 3 ? ['H7N9', 're-stimulation'] : ['Initial infection', 'only']", "ticks": false, "labelPadding": 5, "labelLineHeight": 14.5, "labelFontSize": 13, "title": null, "domainWidth": 2, "labelOverlap": false}},
                      "y": {"field": "m", "type": "quantitative", "scale": {"domain": [0, 40], "nice": false}, "axis": {"title": "SFU per 1.25x10⁴ cells", "values": [0, 10, 20, 30, 40], "tickSize": 5, "labelPadding": 1, "labelOverlap": false, "minExtent": 22, "maxExtent": 22, "titlePadding": 8.25, "domainWidth": 2}}}},
                    {"data": {"name": "fBars"}, "mark": {"type": "tick", "opacity": 0}, "encoding": {
                      "x": {"field": "x", "type": "quantitative", "axis": {"orient": "bottom", "title": null, "values": [1, 2, 3.68, 4.68], "labels": false, "domain": false, "tickSize": 5, "tickWidth": 1.3}},
                      "y": {"field": "m", "type": "quantitative", "axis": {"orient": "left", "title": null, "values": [1, 2, 3, 4, 5, 6, 7, 8, 9, 11, 12, 13, 14, 15, 16, 17, 18, 19, 21, 22, 23, 24, 25, 26, 27, 28, 29, 31, 32, 33, 34, 35, 36, 37, 38, 39], "labels": false, "domain": false, "tickSize": 3, "tickWidth": 1.2, "minExtent": 0, "maxExtent": 0}}}},
                    {"data": {"values": [{"x": 0.3, "top": 43.25, "bot": -1.3}]}, "mark": {"type": "rule", "color": "#333", "strokeWidth": 1.2, "xOffset": -75}, "encoding": {"x": {"field": "x", "type": "quantitative", "axis": null}, "y": {"field": "top", "type": "quantitative", "axis": null}, "y2": {"field": "bot"}}},
                    {"data": {"name": "fBars"}, "mark": {"type": "rule", "color": "#222", "strokeWidth": 1.5}, "encoding": {"x": {"field": "x", "type": "quantitative", "axis": null}, "y": {"field": "lo", "type": "quantitative", "axis": null}, "y2": {"field": "hi"}}},
                    {"data": {"name": "fBars"}, "mark": {"type": "tick", "orient": "horizontal", "color": "#222", "size": 18, "thickness": 1.5}, "encoding": {"x": {"field": "x", "type": "quantitative", "axis": null}, "y": {"field": "hi", "type": "quantitative", "axis": null}}},
                    {"data": {"name": "fBars"}, "mark": {"type": "tick", "orient": "horizontal", "color": "#222", "size": 18, "thickness": 1.5}, "encoding": {"x": {"field": "x", "type": "quantitative", "axis": null}, "y": {"field": "lo", "type": "quantitative", "axis": null}}},
                    {"data": {"values": [{"x": 3.68, "x2": 4.68, "v": 20.7}]}, "mark": {"type": "rule", "color": "#222", "strokeWidth": 2}, "encoding": {"x": {"field": "x", "type": "quantitative", "axis": null}, "x2": {"field": "x2"}, "y": {"field": "v", "type": "quantitative", "axis": null}}},
                    {"data": {"values": [{"x": 3.68, "lo": 19.9, "hi": 21.5}, {"x": 4.68, "lo": 19.9, "hi": 21.5}]}, "mark": {"type": "rule", "color": "#222", "strokeWidth": 2}, "encoding": {"x": {"field": "x", "type": "quantitative", "axis": null}, "y": {"field": "lo", "type": "quantitative", "axis": null}, "y2": {"field": "hi"}}},
                    {"data": {"values": [{"x": 4.18, "v": 23.6, "t": "*"}]}, "mark": {"type": "text", "fontSize": 14, "align": "center", "baseline": "middle"}, "encoding": {"x": {"field": "x", "type": "quantitative", "axis": null}, "y": {"field": "v", "type": "quantitative", "axis": null}, "text": {"field": "t"}}},
                    {"data": {"name": "fPts"}, "mark": {"type": "point", "filled": true, "size": 105, "opacity": 1}, "encoding": {
                      "x": {"field": "x", "type": "quantitative", "axis": null},
                      "y": {"field": "v", "type": "quantitative", "axis": null},
                      "color": {"field": "g", "type": "nominal", "scale": {"domain": ["Day 6 - Severe", "Day 5 - Weight Loss", "Day 7 - Endpoint", "Day 7 - Control"], "range": ["#ee1c25", "#f7931e", "#1fb33a", "#5b9cf2"]}, "legend": null},
                      "shape": {"field": "s", "type": "nominal", "scale": {"domain": ["c", "s", "t", "d"], "range": ["circle", "square", "triangle-up", "diamond"]}, "legend": null}}},
                    {"data": {"values": [{"x": 0.3, "v": 40, "t": "F"}]}, "mark": {"type": "text", "fontSize": 12, "fontWeight": "bold", "align": "left", "baseline": "middle", "dx": -49, "dy": 2}, "encoding": {"x": {"field": "x", "type": "quantitative", "axis": null}, "y": {"field": "v", "type": "quantitative", "axis": null}, "text": {"field": "t"}}}
                  ]
                }
              ]
            }
          ]
        },
        {
          "width": 1, "height": 1,
          "data": {"name": "legendRows"},
          "mark": {"type": "point", "opacity": 0, "filled": true, "size": 0},
          "encoding": {
            "color": {"field": "g", "type": "nominal", "scale": {"domain": ["Day 6 - Severe", "Day 5 - Weight Loss", "Day 7 - Endpoint", "Day 7 - Control"], "range": ["#ee1c25", "#f7931e", "#1fb33a", "#1eb0ec"]},
              "legend": {"orient": "right", "offset": 309.5, "title": null, "symbolType": "circle", "symbolSize": 145, "symbolStrokeWidth": 0, "symbolOpacity": 1, "labelFontSize": 13, "labelColor": "#000", "labelExpr": "'= ' + datum.label", "rowPadding": 0.3, "labelOffset": 6, "padding": 0}}
          }
        }
      ]
    }
  ]
}
